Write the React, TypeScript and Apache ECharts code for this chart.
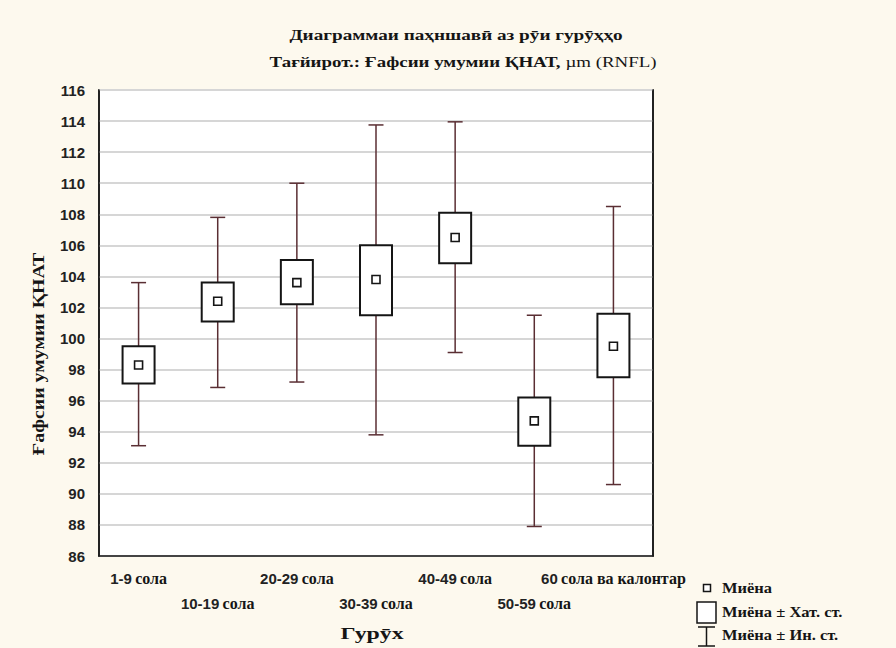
import React, { useEffect, useRef } from "react";
import * as echarts from "echarts";

// Groups and their statistics (mean, ± standard error, ± standard deviation)
const groups = ["1-9 сола", "10-19 сола", "20-29 сола", "30-39 сола", "40-49 сола", "50-59 сола", "60 сола ва калонтар"];
const means = [98.3, 102.4, 103.6, 103.8, 106.5, 94.7, 99.5];
const seLow = [97.1, 101.1, 102.2, 101.5, 104.85, 93.1, 97.5];
const seHigh = [99.5, 103.6, 105.05, 106.0, 108.1, 96.2, 101.6];
const sdLow = [93.1, 96.85, 97.2, 93.8, 99.1, 87.9, 90.6];
const sdHigh = [103.6, 107.8, 110.0, 113.75, 113.95, 101.5, 108.5];

const yMin = 86;
const yMax = 116;
const yStep = 2;

const title1 = "Диаграммаи паҳншавӣ аз рӯи гурӯҳҳо";
const title2Bold = "Тағйирот.: Ғафсии умумии ҚНАТ, ";
const title2Plain = "µm (RNFL)";
const yName = "Ғафсии умумии ҚНАТ";
const xName = "Гурӯх";
const legendItems = ["Миёна", "Миёна ± Хат. ст.", "Миёна ± Ин. ст."];

const SERIF = "'Liberation Serif', 'Times New Roman', serif";
const SANS = "'Liberation Sans', Arial, sans-serif";
const WHISKER = "#5a2e33";
const INK = "#151515";

export default function App() {
  const ref = useRef<HTMLDivElement>(null);

  useEffect(() => {
    if (!ref.current) return;
    const chart = echarts.init(ref.current, null, { renderer: "svg" });

    const data = groups.map((_, i) => [i, sdLow[i], seLow[i], means[i], seHigh[i], sdHigh[i]]);

    // One whisker-box glyph per group: ±SD whisker, ±SE box, mean marker
    const renderItem = (params: any, api: any) => {
      const idx = api.value(0);
      const pLowW = api.coord([idx, api.value(1)]);
      const pLowB = api.coord([idx, api.value(2)]);
      const pMean = api.coord([idx, api.value(3)]);
      const pHighB = api.coord([idx, api.value(4)]);
      const pHighW = api.coord([idx, api.value(5)]);
      const x = pMean[0];
      const boxW = 32;
      const capW = 15;
      const m = 8;
      const lineStyle = { stroke: WHISKER, lineWidth: 1.5 };
      return {
        type: "group",
        children: [
          { type: "line", shape: { x1: x, y1: pHighW[1], x2: x, y2: pLowW[1] }, style: lineStyle },
          { type: "line", shape: { x1: x - capW / 2, y1: pHighW[1], x2: x + capW / 2, y2: pHighW[1] }, style: lineStyle },
          { type: "line", shape: { x1: x - capW / 2, y1: pLowW[1], x2: x + capW / 2, y2: pLowW[1] }, style: lineStyle },
          {
            type: "rect",
            shape: { x: x - boxW / 2, y: pHighB[1], width: boxW, height: pLowB[1] - pHighB[1] },
            style: { fill: "#ffffff", stroke: INK, lineWidth: 2 },
          },
          {
            type: "rect",
            shape: { x: x - m / 2, y: pMean[1] - m / 2, width: m, height: m },
            style: { fill: "#ffffff", stroke: INK, lineWidth: 1.6 },
          },
        ],
      };
    };

    const tickStyle = { inside: true, length: 4, lineStyle: { color: INK, width: 1 } };

    const legendFont = `bold 15px ${SERIF}`;
    const legend = [
      { type: "rect", shape: { x: 703.5, y: 584.5, width: 7, height: 7 }, style: { fill: "#fff", stroke: INK, lineWidth: 1.5 } },
      { type: "text", x: 722, y: 588, scaleX: 1.1, style: { text: legendItems[0], font: legendFont, fill: INK, verticalAlign: "middle" } },
      { type: "rect", shape: { x: 697, y: 602, width: 19, height: 21 }, style: { fill: "#fff", stroke: INK, lineWidth: 1.5 } },
      { type: "text", x: 722, y: 612, scaleX: 1.1, style: { text: legendItems[1], font: legendFont, fill: INK, verticalAlign: "middle" } },
      { type: "line", shape: { x1: 698, y1: 627, x2: 715, y2: 627 }, style: { stroke: INK, lineWidth: 1.5 } },
      { type: "line", shape: { x1: 706.5, y1: 627, x2: 706.5, y2: 646 }, style: { stroke: INK, lineWidth: 1.5 } },
      { type: "line", shape: { x1: 698, y1: 646, x2: 715, y2: 646 }, style: { stroke: INK, lineWidth: 1.5 } },
      { type: "text", x: 722, y: 635, scaleX: 1.1, style: { text: legendItems[2], font: legendFont, fill: INK, verticalAlign: "middle" } },
    ];

    chart.setOption({
      animation: false,
      backgroundColor: "#fdf9ee",
      grid: {
        left: 99,
        right: 243,
        top: 90,
        bottom: 92,
        show: true,
        backgroundColor: "#ffffff",
        borderColor: INK,
        borderWidth: 1.5,
      },
      xAxis: {
        type: "category",
        data: groups,
        boundaryGap: true,
        axisLine: { show: true, lineStyle: { color: INK, width: 1.5 } },
        axisTick: { ...tickStyle, alignWithLabel: true },
        axisLabel: {
          interval: 0,
          margin: 10,
          lineHeight: 25,
          formatter: (value: string, index: number) => {
            const sp = value.indexOf(" ");
            const num = value.slice(0, sp);
            const rest = value.slice(sp + 1);
            const line = `{n|${num}} {s|${rest}}`;
            return index % 2 === 1 ? `\n${line}` : line;
          },
          rich: {
            n: { fontFamily: SANS, fontWeight: "bold", fontSize: 15, color: "#222", lineHeight: 25 },
            s: { fontFamily: SERIF, fontWeight: "bold", fontSize: 16, color: INK, lineHeight: 25 },
          },
        },
        splitLine: { show: false },
      },
      yAxis: [
        {
          type: "value",
          min: yMin,
          max: yMax,
          interval: yStep,
          axisLine: { show: true, lineStyle: { color: INK, width: 1.5 } },
          axisTick: tickStyle,
          axisLabel: { margin: 14, fontFamily: SANS, fontWeight: "bold", fontSize: 15, color: "#222" },
          splitLine: { show: true, lineStyle: { color: "#d6d6d6", width: 2 } },
        },
        {
          type: "value",
          position: "right",
          min: yMin,
          max: yMax,
          interval: yStep,
          axisLine: { show: true, lineStyle: { color: INK, width: 1.5 } },
          axisTick: tickStyle,
          axisLabel: { show: false },
          splitLine: { show: false },
        },
      ],
      graphic: [
        {
          type: "text",
          x: 456,
          y: 35,
          scaleX: 1.28,
          style: { text: title1, font: `bold 15px ${SERIF}`, fill: INK, align: "center", verticalAlign: "middle" },
        },
        {
          type: "text",
          x: 463,
          y: 62,
          scaleX: 1.26,
          style: {
            text: `{b|${title2Bold}}{p|${title2Plain}}`,
            align: "center",
            verticalAlign: "middle",
            rich: {
              b: { fontFamily: SERIF, fontWeight: "bold", fontSize: 15, fill: INK },
              p: { fontFamily: SERIF, fontSize: 15, fill: INK },
            },
          },
        },
        {
          type: "text",
          x: 39,
          y: 354,
          rotation: Math.PI / 2,
          scaleX: 1.24,
          style: { text: yName, font: `bold 16px ${SERIF}`, fill: INK, align: "center", verticalAlign: "middle" },
        },
        {
          type: "text",
          x: 372,
          y: 633,
          scaleX: 1.4,
          style: { text: xName, font: `bold 17px ${SERIF}`, fill: INK, align: "center", verticalAlign: "middle" },
        },
        ...legend,
      ],
      series: [
        {
          type: "custom",
          renderItem,
          data,
          encode: { x: 0, y: [1, 2, 3, 4, 5] },
          clip: false,
        },
      ],
    });

    return () => chart.dispose();
  }, []);

  return <div ref={ref} style={{ width: 896, height: 648, position: "absolute", left: 0, top: 0 }} />;
}
